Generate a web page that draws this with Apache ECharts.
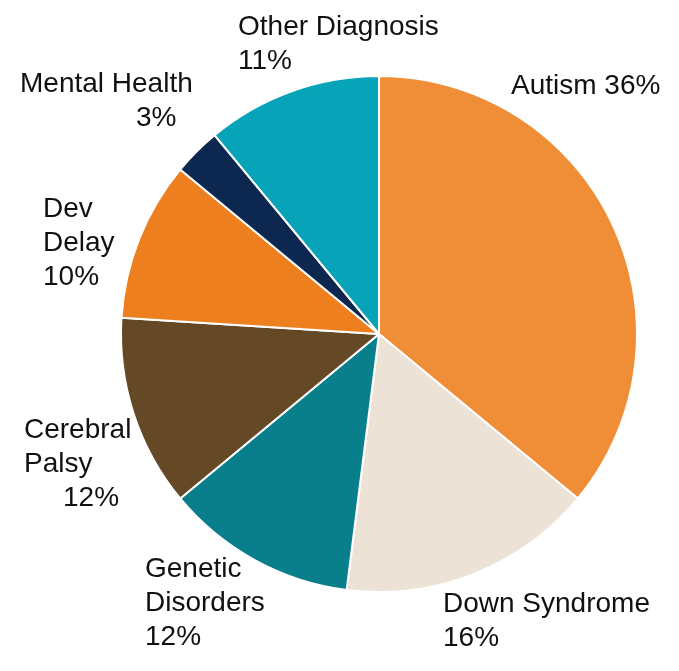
<!DOCTYPE html>
<html>
<head>
<meta charset="utf-8">
<script src="https://cdn.jsdelivr.net/npm/echarts@6/dist/echarts.min.js"></script>
<style>
  html, body { margin: 0; padding: 0; background: #fff; }
  #chart { width: 679px; height: 671px; }
</style>
</head>
<body>
<div id="chart"></div>
<script>
  // 数据
  const categories = ["Autism", "Down Syndrome", "Genetic Disorders", "Cerebral Palsy", "Dev Delay", "Mental Health", "Other Diagnosis"];
  const shares = [36, 16, 12, 12, 10, 3, 11];
  const palette = ["#EF8E37", "#ECE2D5", "#0A7F8C", "#654826", "#ED7F1E", "#0C2850", "#07A3B8"];

  // label placement (top-left of text block) + line breaks
  const labelSpots = {
    "Autism":            { x: 511, y: 69,  text: (v) => "Autism " + v + "%" },
    "Down Syndrome":     { x: 443, y: 587, text: (v) => "Down Syndrome\n" + v + "%" },
    "Genetic Disorders": { x: 145, y: 552, text: (v) => "Genetic\nDisorders\n" + v + "%" },
    "Cerebral Palsy":    { x: 24,  y: 413, text: (v) => "Cerebral\nPalsy\n{p39|" + v + "%}" },
    "Dev Delay":         { x: 43,  y: 192, text: (v) => "Dev\nDelay\n" + v + "%" },
    "Mental Health":     { x: 20,  y: 67,  text: (v) => "Mental Health\n{p116|" + v + "%}" },
    "Other Diagnosis":   { x: 238, y: 10,  text: (v) => "Other Diagnosis\n" + v + "%" }
  };

  const chart = echarts.init(document.getElementById("chart"));
  chart.setOption({
    animation: false,
    series: [
      {
        type: "pie",
        center: [379, 334],
        radius: 258,
        startAngle: 90,
        clockwise: true,
        itemStyle: { borderColor: "#fff", borderWidth: 2 },
        labelLine: { show: false },
        label: {
          show: true,
          position: "inside",
          overflow: "none",
          color: "#111",
          fontFamily: "Liberation Sans, Arial, sans-serif",
          fontSize: 28,
          lineHeight: 34,
          formatter: (p) => labelSpots[p.name].text(p.value),
          rich: {
            p39: { fontSize: 28, lineHeight: 34, color: "#111", padding: [0, 0, 0, 39] },
            p116: { fontSize: 28, lineHeight: 34, color: "#111", padding: [0, 0, 0, 116] }
          }
        },
        labelLayout: (params) => {
          const s = labelSpots[categories[params.dataIndex]];
          return { x: s.x, y: s.y, align: "left", verticalAlign: "top" };
        },
        data: categories.map((name, i) => ({
          name: name,
          value: shares[i],
          itemStyle: { color: palette[i] }
        }))
      }
    ]
  });
</script>
</body>
</html>
